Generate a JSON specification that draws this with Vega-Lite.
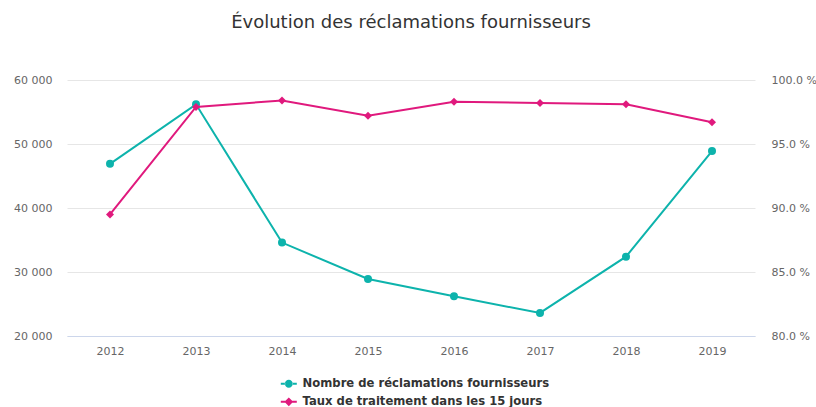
{
  "$schema": "https://vega.github.io/schema/vega-lite/v6.json",
  "autosize": "none",
  "width": 688,
  "height": 256,
  "padding": {"left": 67, "top": 80, "right": 61, "bottom": 71},
  "background": "#ffffff",
  "title": {
    "text": "Évolution des réclamations fournisseurs",
    "anchor": "middle",
    "offset": 42,
    "font": "DejaVu Sans",
    "fontSize": 18,
    "fontWeight": "normal",
    "color": "#333333"
  },
  "data": {
    "values": [
      {"year": "2012", "series": "Nombre de réclamations fournisseurs", "value": 46900},
      {"year": "2013", "series": "Nombre de réclamations fournisseurs", "value": 56200},
      {"year": "2014", "series": "Nombre de réclamations fournisseurs", "value": 34600},
      {"year": "2015", "series": "Nombre de réclamations fournisseurs", "value": 28900},
      {"year": "2016", "series": "Nombre de réclamations fournisseurs", "value": 26200},
      {"year": "2017", "series": "Nombre de réclamations fournisseurs", "value": 23600},
      {"year": "2018", "series": "Nombre de réclamations fournisseurs", "value": 32400},
      {"year": "2019", "series": "Nombre de réclamations fournisseurs", "value": 48900},
      {"year": "2012", "series": "Taux de traitement dans les 15 jours", "value": 89.5},
      {"year": "2013", "series": "Taux de traitement dans les 15 jours", "value": 97.9},
      {"year": "2014", "series": "Taux de traitement dans les 15 jours", "value": 98.4},
      {"year": "2015", "series": "Taux de traitement dans les 15 jours", "value": 97.2},
      {"year": "2016", "series": "Taux de traitement dans les 15 jours", "value": 98.3},
      {"year": "2017", "series": "Taux de traitement dans les 15 jours", "value": 98.2},
      {"year": "2018", "series": "Taux de traitement dans les 15 jours", "value": 98.1},
      {"year": "2019", "series": "Taux de traitement dans les 15 jours", "value": 96.7}
    ]
  },
  "encoding": {
    "x": {
      "field": "year",
      "type": "ordinal",
      "scale": {"type": "point", "padding": 0.5},
      "axis": {
        "title": null,
        "labelAngle": 0,
        "domainColor": "#ccd6eb",
        "domainWidth": 1,
        "ticks": false,
        "grid": false,
        "labelPadding": 9,
        "labelColor": "#666666",
        "labelFontSize": 11,
        "labelFont": "DejaVu Sans"
      }
    },
    "color": {
      "field": "series",
      "type": "nominal",
      "scale": {
        "domain": ["Nombre de réclamations fournisseurs", "Taux de traitement dans les 15 jours"],
        "range": ["#0db3ac", "#e0197d"]
      },
      "legend": {
        "orient": "none",
        "legendX": 216,
        "legendY": 298,
        "direction": "vertical",
        "title": null,
        "padding": 0,
        "labelFont": "DejaVu Sans",
        "labelFontSize": 11.6,
        "labelFontWeight": "bold",
        "labelColor": "#333333",
        "labelLimit": 0,
        "symbolSize": 64,
        "labelOffset": 8,
        "rowPadding": 5,
        "encode": {
          "symbols": {
            "update": {
              "shape": {"signal": "datum.value === 'Nombre de réclamations fournisseurs' ? 'M-2,-0.25H-0.9V0.25H-2Z M0.9,-0.25H2V0.25H0.9Z M-1,0A1,1 0 1,0 1,0A1,1 0 1,0 -1,0Z' : 'M-2,-0.25H-0.9V0.25H-2Z M0.9,-0.25H2V0.25H0.9Z M0,-1.1L1.1,0L0,1.1L-1.1,0Z'"},
              "fill": {"scale": "color", "field": "value"},
              "strokeWidth": {"value": 0}
            }
          }
        }
      }
    }
  },
  "layer": [
    {
      "transform": [{"filter": "datum.series === 'Nombre de réclamations fournisseurs'"}],
      "encoding": {
        "y": {
          "field": "value",
          "type": "quantitative",
          "scale": {"domain": [20000, 60000], "nice": false, "zero": false},
          "axis": {
            "title": null,
            "orient": "left",
            "values": [20000, 30000, 40000, 50000, 60000],
            "labelExpr": "replace(format(datum.value, ','), ',', ' ')",
            "grid": true,
            "gridColor": "#e6e6e6",
            "gridWidth": 1,
            "domain": false,
            "ticks": false,
            "labelPadding": 15,
            "labelColor": "#666666",
            "labelFontSize": 11,
            "labelFont": "DejaVu Sans"
          }
        }
      },
      "layer": [
        {"mark": {"type": "line", "strokeWidth": 2}},
        {"mark": {"type": "point", "filled": true, "opacity": 1, "size": 64, "shape": "circle"}}
      ]
    },
    {
      "transform": [{"filter": "datum.series === 'Taux de traitement dans les 15 jours'"}],
      "encoding": {
        "y": {
          "field": "value",
          "type": "quantitative",
          "scale": {"domain": [80, 100], "nice": false, "zero": false},
          "axis": {
            "title": null,
            "orient": "right",
            "values": [80, 85, 90, 95, 100],
            "labelExpr": "format(datum.value, '.1f') + ' %'",
            "grid": false,
            "domain": false,
            "ticks": false,
            "labelPadding": 16,
            "labelColor": "#666666",
            "labelFontSize": 11,
            "labelFont": "DejaVu Sans"
          }
        }
      },
      "layer": [
        {"mark": {"type": "line", "strokeWidth": 2}},
        {"mark": {"type": "point", "filled": true, "opacity": 1, "size": 64, "shape": "diamond"}}
      ]
    }
  ],
  "resolve": {"scale": {"y": "independent"}},
  "config": {
    "view": {"stroke": null},
    "font": "DejaVu Sans"
  }
}
